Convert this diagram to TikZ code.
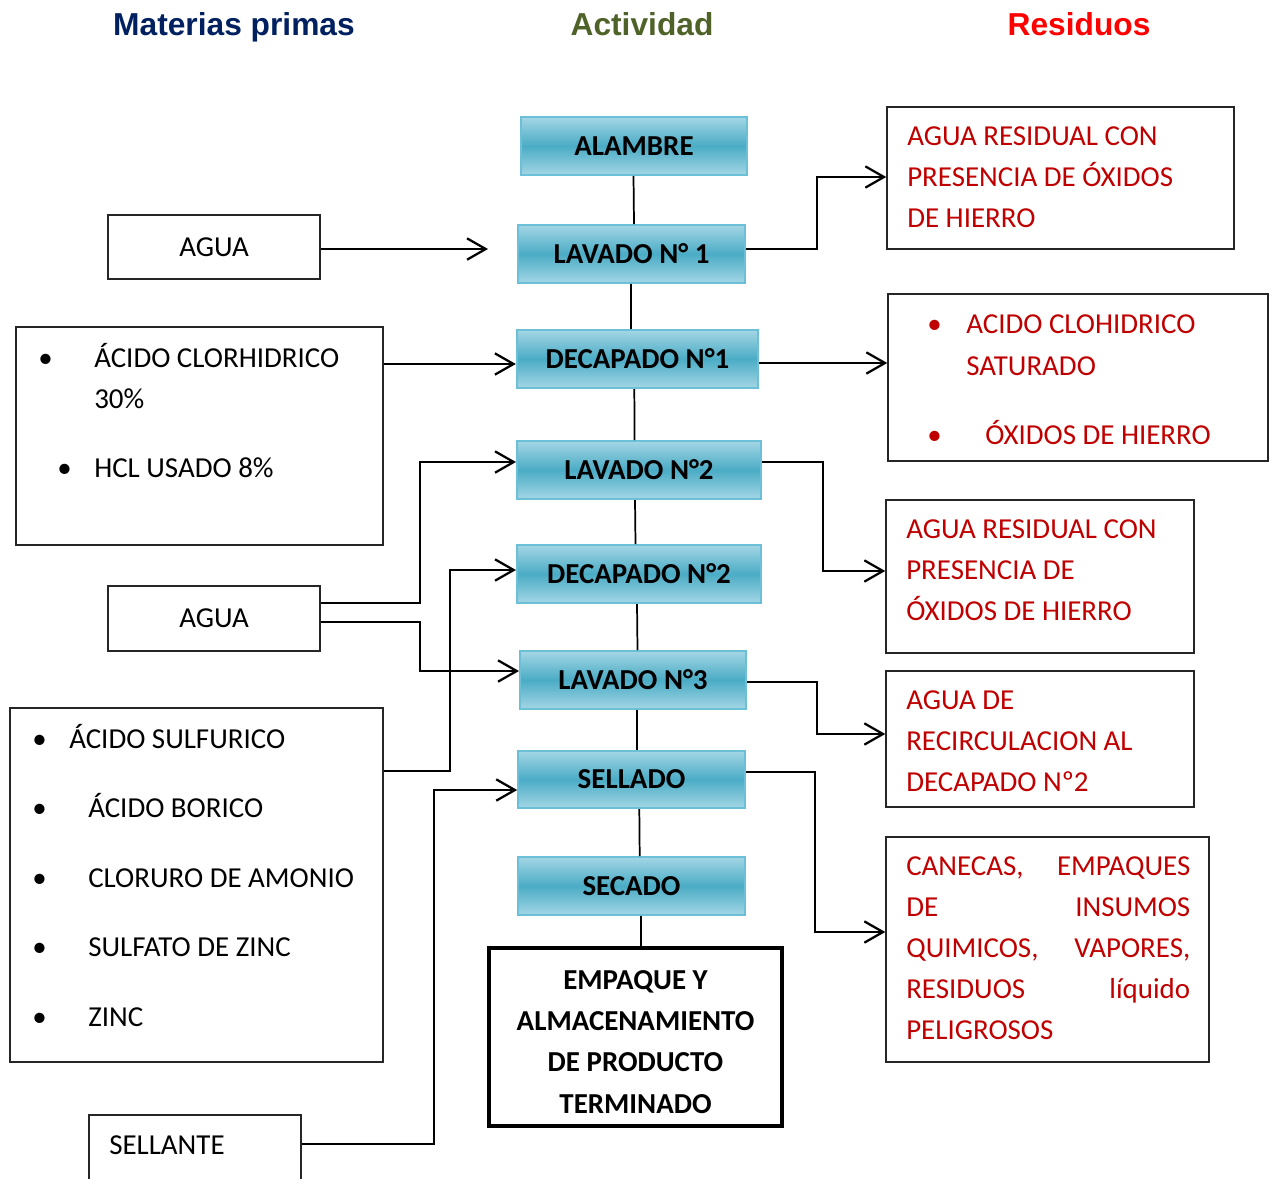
\documentclass[tikz,border=0pt]{standalone}
\usepackage{fontspec}
\setmainfont{Carlito}
\newfontfamily\hfont{Liberation Sans}
\usetikzlibrary{arrows.meta}
\definecolor{navyh}{HTML}{002060}
\definecolor{oliveh}{HTML}{4F6228}
\definecolor{redh}{HTML}{FF0000}
\definecolor{redt}{HTML}{C00000}
\definecolor{procl}{HTML}{A3D6E4}
\definecolor{procm}{HTML}{4BACC6}
\definecolor{procb}{HTML}{6BBFD6}
\begin{document}
\begin{tikzpicture}[x=0.75pt,y=-0.75pt,
  head/.style={font=\hfont\bfseries\fontsize{23.8}{28}\selectfont, inner sep=0pt, anchor=base},
  proc/.style={rectangle, draw=procb, line width=1.5pt, top color=procl, bottom color=procl, middle color=procm,
     font=\bfseries\fontsize{21.7}{26}\selectfont, inner sep=0pt, minimum height=43.5pt},
  lbox/.style={rectangle, draw=black!85, line width=1.1pt, inner sep=0pt},
  txt/.style={font=\fontsize{21.7}{26}\selectfont, inner sep=0pt, anchor=base west},
  btxt/.style={font=\bfseries\fontsize{21.7}{26}\selectfont, inner sep=0pt, anchor=base},
  rtxt/.style={txt, text=redt},
  conn/.style={line width=1.3pt},
  arr/.style={line width=1.7pt, -{Straight Barb[length=14pt,width=16pt]}}
]
\useasboundingbox (0,0) rectangle (1269,1178);
\clip (0,0) rectangle (1269,1178);
% headings
\node[head, text=navyh] (h1) at (234,35) {Materias primas};
\node[head, text=oliveh] (h2) at (642,35) {Actividad};
\node[head, text=redh] (h3) at (1079,35) {Residuos};
% process boxes
\node[proc, minimum width=169.5pt] (alambre) at (634,146) {ALAMBRE};
\node[proc, minimum width=170pt] (lav1) at (631.5,254) {LAVADO N° 1};
\node[proc, minimum width=181pt] (dec1) at (637.5,359) {DECAPADO N°1};
\node[proc, minimum width=183pt] (lav2) at (639,470) {LAVADO N°2};
\node[proc, minimum width=183pt] (dec2) at (639,574) {DECAPADO N°2};
\node[proc, minimum width=169.5pt] (lav3) at (633,680) {LAVADO N°3};
\node[proc, minimum width=170pt, minimum height=42.75pt] (sell) at (631.5,779.5) {SELLADO};
\node[proc, minimum width=170pt] (sec) at (631.5,886) {SECADO};
\node[rectangle, draw=black, line width=3pt, minimum width=220pt, minimum height=133.5pt] (emp) at (635.5,1037) {};
\node[btxt] (e1) at (635.5,989.5) {EMPAQUE Y};
\node[btxt] (e2) at (635.5,1030.5) {ALMACENAMIENTO};
\node[btxt] (e3) at (635.5,1071.5) {DE PRODUCTO};
\node[btxt] (e4) at (635.5,1113) {TERMINADO};
% vertical links
\draw[conn] (alambre.south -| 633.5,0) -- (lav1.north -| 634,0);
\draw[conn] (lav1.south -| 631,0) -- (dec1.north -| 631,0);
\draw[conn] (dec1.south -| 634.3,0) -- (lav2.north -| 634.6,0);
\draw[conn] (lav2.south -| 635,0) -- (dec2.north -| 635.5,0);
\draw[conn] (dec2.south -| 637,0) -- (lav3.north -| 637.5,0);
\draw[conn] (lav3.south -| 636.7,0) -- (sell.north -| 636.7,0);
\draw[conn] (sell.south -| 639.3,0) -- (sec.north -| 639.7,0);
\draw[conn] (sec.south -| 640.7,0) -- (emp.north -| 640.7,0);
% left boxes
\node[lbox, minimum width=159pt, minimum height=48pt, font=\fontsize{21.7}{26}\selectfont] (agua1) at (214,247) {AGUA};
\node[lbox, minimum width=275.25pt, minimum height=163.5pt] (acid) at (199.5,436) {};
\node[txt] (a1b) at (38,367) {\textbullet};
\node[txt] (a1) at (94,367) {ÁCIDO CLORHIDRICO};
\node[txt] (a1c) at (94,408) {30\%};
\node[txt] (a2b) at (57,477) {\textbullet};
\node[txt] (a2) at (94,477) {HCL USADO 8\%};
\node[lbox, minimum width=159pt, minimum height=48.75pt, font=\fontsize{21.7}{26}\selectfont] (agua2) at (214,618.5) {AGUA};
\node[lbox, minimum width=279.75pt, minimum height=265.5pt] (sulf) at (196.5,885) {};
\node[txt] (s1b) at (32,748) {\textbullet};
\node[txt] (s1) at (69,748) {ÁCIDO SULFURICO};
\node[txt] (s2b) at (32,817) {\textbullet};
\node[txt] (s2) at (88,817) {ÁCIDO BORICO};
\node[txt] (s3b) at (32,887) {\textbullet};
\node[txt] (s3) at (88,887) {CLORURO DE AMONIO};
\node[txt] (s4b) at (32,956) {\textbullet};
\node[txt] (s4) at (88,956) {SULFATO DE ZINC};
\node[txt] (s5b) at (32,1026) {\textbullet};
\node[txt] (s5) at (88,1026) {ZINC};
\node[lbox, minimum width=159pt, minimum height=60pt] (sellbox) at (195,1155) {};
\node[txt] (st) at (109,1154) {SELLANTE};
% right boxes
\node[lbox, minimum width=260.25pt, minimum height=106.5pt] (r1) at (1060.5,178) {};
\node[rtxt] (r1a) at (907,145) {AGUA RESIDUAL CON};
\node[rtxt] (r1b) at (907,186) {PRESENCIA DE ÓXIDOS};
\node[rtxt] (r1c) at (907,227) {DE HIERRO};
\node[lbox, minimum width=285pt, minimum height=125.25pt] (r2) at (1078,377.5) {};
\node[rtxt] (r2ab) at (927,333) {\textbullet};
\node[rtxt] (r2a) at (966,333) {ACIDO CLOHIDRICO};
\node[rtxt] (r2b) at (966,375) {SATURADO};
\node[rtxt] (r2cb) at (927,444) {\textbullet};
\node[rtxt] (r2c) at (985,444) {ÓXIDOS DE HIERRO};
\node[lbox, minimum width=231pt, minimum height=114.75pt] (r3) at (1040,576.5) {};
\node[rtxt] (r3a) at (906,538) {AGUA RESIDUAL CON};
\node[rtxt] (r3b) at (906,579) {PRESENCIA DE};
\node[rtxt] (r3c) at (906,620) {ÓXIDOS DE HIERRO};
\node[lbox, minimum width=231pt, minimum height=102pt] (r4) at (1040,739) {};
\node[rtxt] (r4a) at (906,709) {AGUA DE};
\node[rtxt] (r4b) at (906,750) {RECIRCULACION AL};
\node[rtxt] (r4c) at (906,791) {DECAPADO Nº2};
\node[lbox, minimum width=242.25pt, minimum height=168.75pt] (r5) at (1047.5,949.5) {};
\node[rtxt] (r5a) at (906,875) {\makebox[213pt][s]{CANECAS,\hfill EMPAQUES}};
\node[rtxt] (r5b) at (906,916) {\makebox[213pt][s]{DE\hfill INSUMOS}};
\node[rtxt] (r5c) at (906,957) {\makebox[213pt][s]{QUIMICOS,\hfill VAPORES,}};
\node[rtxt] (r5d) at (906,998) {\makebox[213pt][s]{RESIDUOS\hfill líquido}};
\node[rtxt] (r5e) at (906,1039) {PELIGROSOS};
% connectors left
\coordinate (c1) at (488,249);
\draw[arr] (agua1.east |- 0,249) -- (c1);
\draw[arr] (acid.east |- 0,364) -- (dec1.west |- 0,364);
\draw[arr] (agua2.east |- 0,603) -- (420,603) -- (420,462) -- (lav2.west |- 0,462);
\draw[arr] (agua2.east |- 0,622) -- (420,622) -- (420,671) -- (lav3.west |- 0,671);
\draw[arr] (sulf.east |- 0,771) -- (450,771) -- (450,570) -- (dec2.west |- 0,570);
\draw[arr] (sellbox.east |- 0,1144) -- (434,1144) -- (434,790) -- (sell.west |- 0,790);
% connectors right
\draw[arr] (lav1.east |- 0,249) -- (817,249) -- (817,177) -- (r1.west |- 0,177);
\draw[arr] (dec1.east |- 0,363) -- (r2.west |- 0,363);
\draw[arr] (lav2.east |- 0,462) -- (823,462) -- (823,571) -- (r3.west |- 0,571);
\draw[arr] (lav3.east |- 0,682) -- (817,682) -- (817,734) -- (r4.west |- 0,734);
\draw[arr] (sell.east |- 0,772) -- (815,772) -- (815,932) -- (r5.west |- 0,932);
\end{tikzpicture}
\end{document}
